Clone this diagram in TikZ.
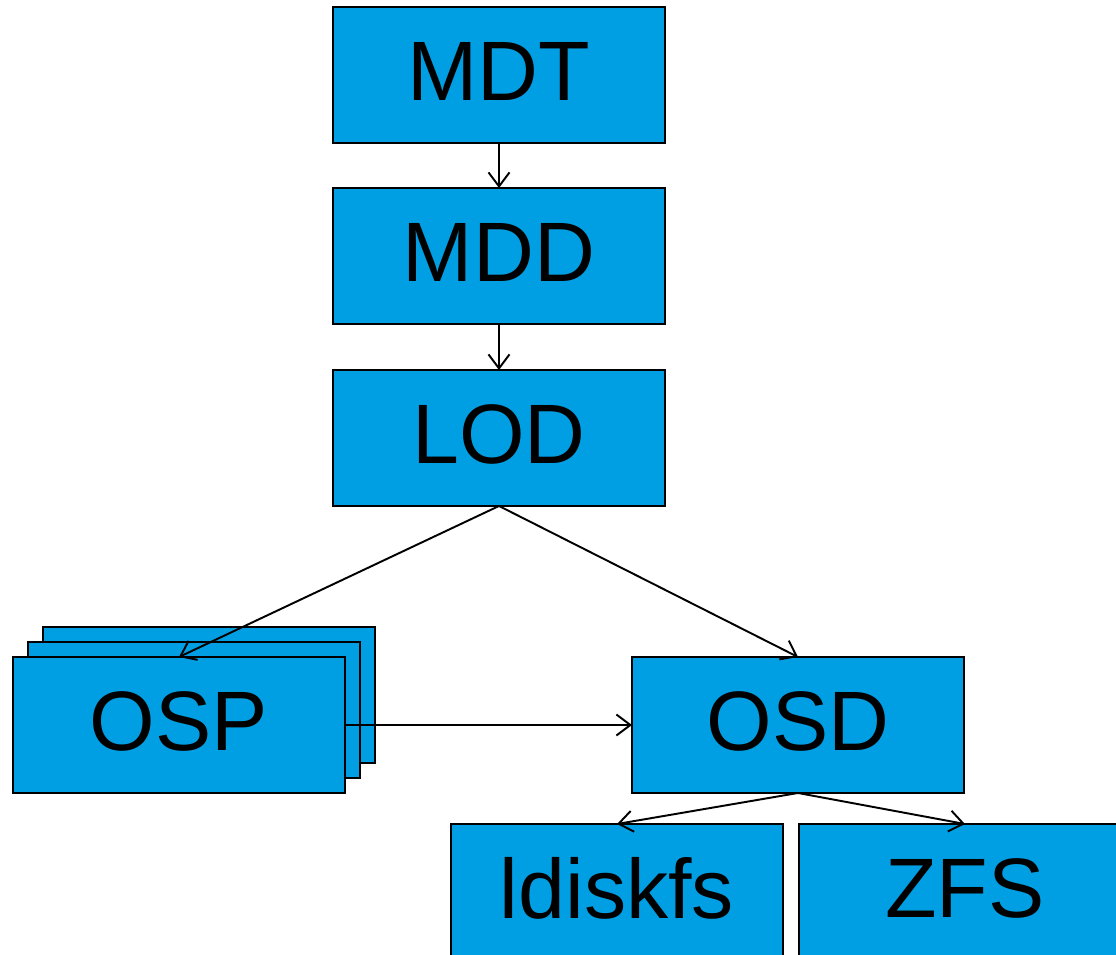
\documentclass[tikz,border=0pt]{standalone}
\usepackage{fontspec}
\setmainfont{Liberation Sans}
\usetikzlibrary{arrows.meta}
\definecolor{layerblue}{RGB}{0,159,227}

\begin{document}
\begin{tikzpicture}[
    x=0.02cm, y=-0.02cm,
    layer/.style={
      draw, fill=layerblue, line width=0.8pt,
      minimum width=6.64cm, minimum height=2.72cm,
      inner sep=0pt, outer sep=0pt, text depth=0.16cm,
      font=\fontsize{48}{56}\selectfont,
    },
    link/.style={-{Straight Barb[length=0.28cm, width=0.42cm]}, line width=1.1pt},
  ]
    \useasboundingbox (0,0) rectangle (1116,955);
    % metadata stack
    \node[layer] (mdt) at (499,75) {MDT};
    \node[layer] (mdd) at (499,256) {MDD};
    \node[layer] (lod) at (499,438) {LOD};
    % several OSPs, drawn back to front
    \node[layer] (osp3) at (209,695) {};
    \node[layer] (osp2) at (194,710) {};
    \node[layer] (osp) at (179,725) {OSP};
    \node[layer] (osd) at (798,725) {OSD};
    % backends, cut at the bottom
    \begin{scope}
      \clip (0,0) rectangle (1116,955);
      \node[layer] (ldiskfs) at (617,892) {ldiskfs};
      \node[layer] (zfs) at (965,892) {ZFS};
    \end{scope}
    \draw[link] (mdt) -- (mdd);
    \draw[link] (mdd) -- (lod);
    \draw[link] (lod.south) -- (osp.north);
    \draw[link] (lod.south) -- (osd.north);
    \draw[link] (osp.east) -- (osd.west);
    \draw[link] (osd.south) -- (ldiskfs.north);
    \draw[link] (osd.south) -- (zfs.north);
\end{tikzpicture}
\end{document}
